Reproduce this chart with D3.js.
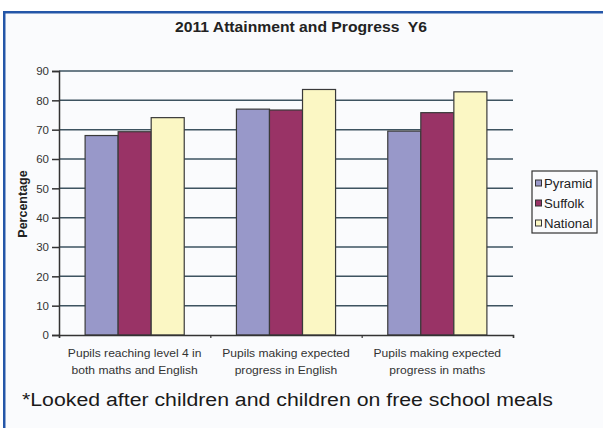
<!DOCTYPE html>
<html><head><meta charset="utf-8">
<script src="https://cdn.jsdelivr.net/npm/d3@7"></script>
<style>
html,body{margin:0;padding:0;background:#fff;}
svg{display:block;font-family:"Liberation Sans",Arial,sans-serif;}
</style></head>
<body>
<script>
const categories = [
  ["Pupils reaching level 4 in", "both maths and English"],
  ["Pupils making expected", "progress in English"],
  ["Pupils making expected", "progress in maths"]
];
const seriesNames = ["Pyramid", "Suffolk", "National"];
const pyramid = [68, 77, 69.5];
const suffolk = [69.3, 76.7, 75.8];
const national = [74.1, 83.7, 82.9];
const yTicks = [0, 10, 20, 30, 40, 50, 60, 70, 80, 90];
const colors = ["#9898c9", "#993366", "#fbf7c4"];

(function () {
const W = 603, H = 428;
const svg = d3.select("body").append("svg").attr("width", W).attr("height", H);

function stretch(sel, sx) {
  sel.each(function () {
    const len = this.getComputedTextLength();
    d3.select(this).attr("textLength", len * sx).attr("lengthAdjust", "spacingAndGlyphs");
  });
  return sel;
}

svg.append("rect").attr("width", W).attr("height", H).attr("fill", "#ffffff");
svg.append("rect").attr("x", 6).attr("y", 13).attr("width", W - 6).attr("height", H - 13).attr("fill", "#fafbfd");
// blue frame (top and left)
svg.append("rect").attr("x", 3).attr("y", 11).attr("width", W - 3).attr("height", 2.5).attr("fill", "#2456a8");
svg.append("rect").attr("x", 3).attr("y", 11).attr("width", 2.5).attr("height", H - 11).attr("fill", "#2456a8");

svg.append("text").attr("x", 301).attr("y", 32).attr("text-anchor", "middle")
  .attr("font-size", 15).attr("font-weight", "bold").attr("fill", "#222")
  .attr("textLength", 252).attr("lengthAdjust", "spacingAndGlyphs")
  .attr("xml:space", "preserve").text("2011 Attainment and Progress  Y6");

const pLeft = 59, pRight = 513, pTop = 71, pBottom = 335;
const x0 = d3.scaleBand().domain(d3.range(categories.length)).range([pLeft, pRight]).paddingInner(0).paddingOuter(0);
const x1 = d3.scaleBand().domain(seriesNames).range([0, x0.bandwidth()]).paddingOuter(0.79).paddingInner(0);
const y = d3.scaleLinear().domain([0, 90]).range([pBottom, pTop]);

// gridlines
const g = svg.append("g");
g.selectAll("line.grid").data(yTicks.filter(d => d > 0)).join("line")
  .attr("x1", pLeft).attr("x2", pRight)
  .attr("y1", d => y(d)).attr("y2", d => y(d))
  .attr("stroke", "#3d5360").attr("stroke-width", 1.5);

// y axis
const yAxis = d3.axisLeft(y).tickValues(yTicks).tickSize(7).tickPadding(3);
const ya = svg.append("g").attr("transform", `translate(${pLeft},0)`).call(yAxis);
ya.select(".domain").attr("stroke", "#333").attr("stroke-width", 1.5);
ya.selectAll(".tick line").attr("stroke", "#333").attr("stroke-width", 1.5);
ya.selectAll(".tick text").attr("font-size", 11.5).attr("fill", "#333").attr("font-family", "Liberation Sans, Arial, sans-serif");

// bars
const data = [pyramid, suffolk, national];
seriesNames.forEach((s, si) => {
  svg.append("g").selectAll("rect").data(data[si]).join("rect")
    .attr("x", (d, i) => x0(i) + x1(s))
    .attr("y", d => y(d))
    .attr("width", x1.bandwidth())
    .attr("height", d => y(0) - y(d))
    .attr("fill", colors[si])
    .attr("stroke", "#3a3a3a").attr("stroke-width", 1.2);
});

// x axis
const xAxis = d3.axisBottom(d3.scaleLinear().domain([0, 3]).range([pLeft, pRight])).tickValues([0, 1, 2, 3]).tickSize(3).tickFormat("");
const xa = svg.append("g").attr("transform", `translate(0,${pBottom})`).call(xAxis);
xa.select(".domain").attr("stroke", "#333").attr("stroke-width", 1.5);
xa.selectAll(".tick line").attr("stroke", "#333").attr("stroke-width", 1.2);

// category labels
categories.forEach((c, i) => {
  const cx = x0(i) + x0.bandwidth() / 2;
  c.forEach((line, li) => {
    const t = svg.append("text").attr("x", cx).attr("y", 357 + li * 17)
      .attr("text-anchor", "middle").attr("font-size", 11.5).attr("fill", "#333").text(line);
    stretch(t, 1.05);
  });
});

// y label
svg.append("text").attr("transform", "translate(23,204) rotate(-90)").attr("text-anchor", "middle")
  .attr("dy", "0.35em")
  .attr("font-size", 12.5).attr("font-weight", "bold").attr("fill", "#222").text("Percentage");

// legend
const lg = svg.append("g");
lg.append("rect").attr("x", 532).attr("y", 171).attr("width", 65).attr("height", 62)
  .attr("fill", "#fafbfd").attr("stroke", "#333").attr("stroke-width", 1.2);
seriesNames.forEach((s, i) => {
  const yy = 183 + i * 20;
  lg.append("rect").attr("x", 535.5).attr("y", yy - 3).attr("width", 6).attr("height", 6)
    .attr("fill", colors[i]).attr("stroke", "#333").attr("stroke-width", 1);
  const t = lg.append("text").attr("x", 544).attr("y", yy + 4.5).attr("font-size", 12).attr("fill", "#222").text(s);
  stretch(t, 1.1);
});

// footnote
svg.append("text").attr("x", 22).attr("y", 406).attr("font-size", 18).attr("fill", "#1a1a1a")
  .attr("textLength", 531).attr("lengthAdjust", "spacingAndGlyphs")
  .text("*Looked after children and children on free school meals");
})();
</script>
</body></html>
